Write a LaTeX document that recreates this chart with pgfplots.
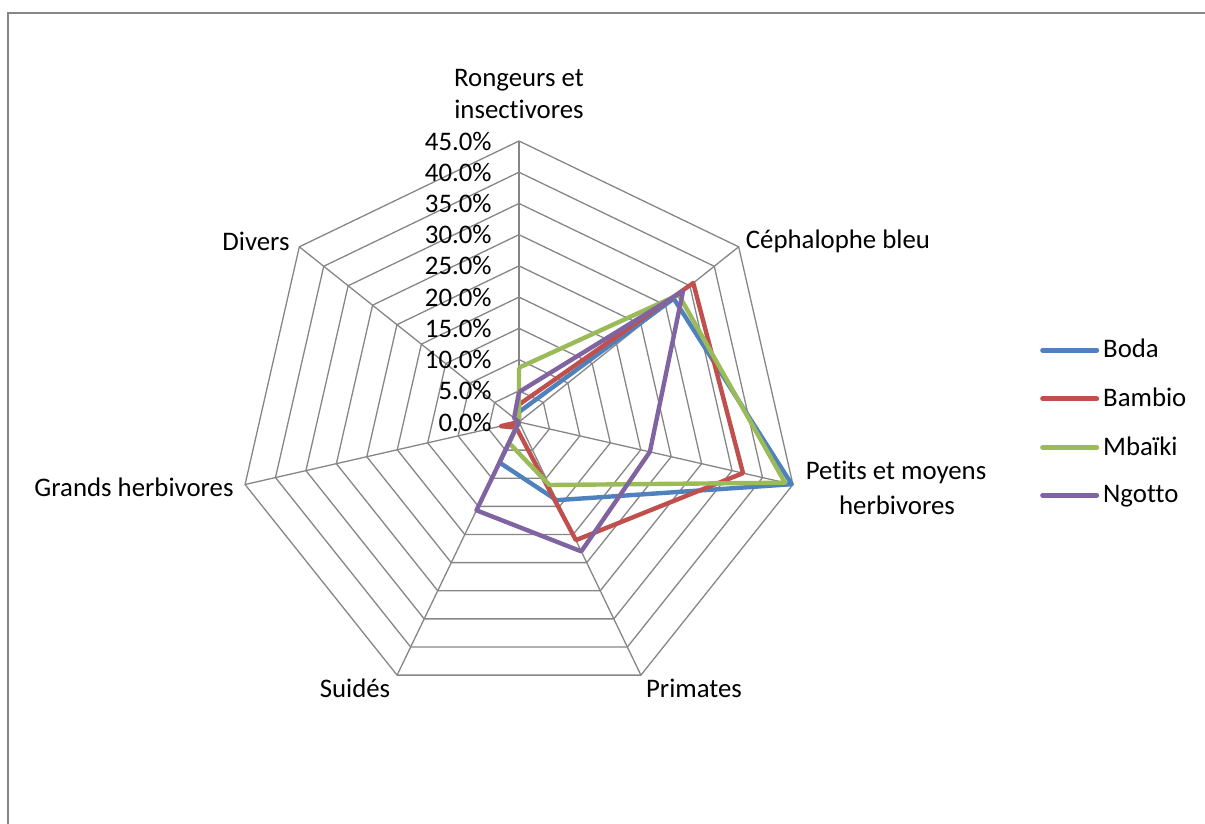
\documentclass[border=0pt]{standalone}
\usepackage{fontspec}
\setmainfont{Carlito}[Ligatures=CommonOff]
\usepackage{pgfplots}
\pgfplotsset{compat=1.18}
\usepgfplotslibrary{polar}

\definecolor{boda}{HTML}{4F81BD}
\definecolor{bambio}{HTML}{C0504D}
\definecolor{mbaiki}{HTML}{9BBB59}
\definecolor{ngotto}{HTML}{8064A2}
\definecolor{gridc}{HTML}{868686}

\begin{document}
\begin{tikzpicture}[font=\fontsize{13.4}{15.5}\selectfont]
\begin{polaraxis}[
  hide axis,
  scale only axis,
  width=281pt, height=281pt,
  ymin=0, ymax=45,
  clip=false,
  legend style={at={(axis description cs:1.416,0.662)}, anchor=north west,
    draw=none, fill=none, font=\fontsize{13.4}{15.5}\selectfont,
    row sep=9.5pt, cells={anchor=west}},
  legend image code/.code={\draw[line width=2.5pt, line cap=round] (0pt,0pt) -- (27pt,0pt);},
]
% web
\pgfplotsinvokeforeach{5,10,15,20,25,30,35,40,45}{
  \addplot[gridc, line width=0.65pt, forget plot] coordinates
    {(90,#1) (38.571,#1) (347.143,#1) (295.714,#1) (244.286,#1) (192.857,#1) (141.429,#1) (90,#1)};
}
\pgfplotsinvokeforeach{90,38.571,347.143,295.714,244.286,192.857,141.429}{
  \addplot[gridc, line width=0.65pt, forget plot] coordinates {(#1,0) (#1,45)};
}
\pgfplotsinvokeforeach{0,5,10,15,20,25,30,35,40,45}{
  \node[anchor=east, xshift=-13.5pt, inner sep=0pt] at (axis cs:90,#1) {#1.0\%};
}

% data: Rongeurs, Cephalophe, Petits, Primates, Suides, Grands, Divers
\addplot[boda, line width=2.2pt, line join=round] coordinates
  {(90,1.6) (38.571,31.7) (347.143,44.8) (295.714,13.9) (244.286,7.2) (192.857,0) (141.429,0) (90,1.6)};
\addplot[bambio, line width=2.2pt, line join=round] coordinates
  {(90,2.8) (38.571,35.7) (347.143,36.8) (295.714,21.0) (244.286,1.0) (192.857,3.0) (141.429,0) (90,2.8)};
\addplot[mbaiki, line width=2.2pt, line join=round] coordinates
  {(90,8.7) (38.571,32.7) (347.143,43.7) (295.714,11.2) (244.286,3.7) (192.857,0) (141.429,0) (90,8.7)};
\addplot[ngotto, line width=2.2pt, line join=round] coordinates
  {(90,4.8) (38.571,33.6) (347.143,21.5) (295.714,23.0) (244.286,15.7) (192.857,0) (141.429,1.0) (90,4.8)};
\legend{Boda, Bambio, Mbaïki, Ngotto}

\coordinate (C) at (axis cs:0,0);
\end{polaraxis}

% category labels
\node[align=center] at ([shift={(0pt,164pt)}]C) {Rongeurs et\\[0.5pt]insectivores};
\node at ([shift={(159.5pt,90.5pt)}]C) {Céphalophe bleu};
\node at ([shift={(188.5pt,-25pt)}]C) {Petits et moyens};
\node at ([shift={(189pt,-41.5pt)}]C) {herbivores};
\node at ([shift={(87.5pt,-133pt)}]C) {Primates};
\node at ([shift={(-82pt,-133pt)}]C) {Suidés};
\node at ([shift={(-192.5pt,-32.5pt)}]C) {Grands herbivores};
\node at ([shift={(-131.5pt,90.5pt)}]C) {Divers};

% chart frame (cropped)
\draw[gridc, line width=1.2pt] ([shift={(-255.5pt,-201pt)}]C) -- ([shift={(-255.5pt,204.5pt)}]C) -- ([shift={(343pt,204.5pt)}]C);

\pgfresetboundingbox
\path[use as bounding box] ([shift={(-259.5pt,211pt)}]C) rectangle ([shift={(343pt,-201pt)}]C);
\end{tikzpicture}
\end{document}
